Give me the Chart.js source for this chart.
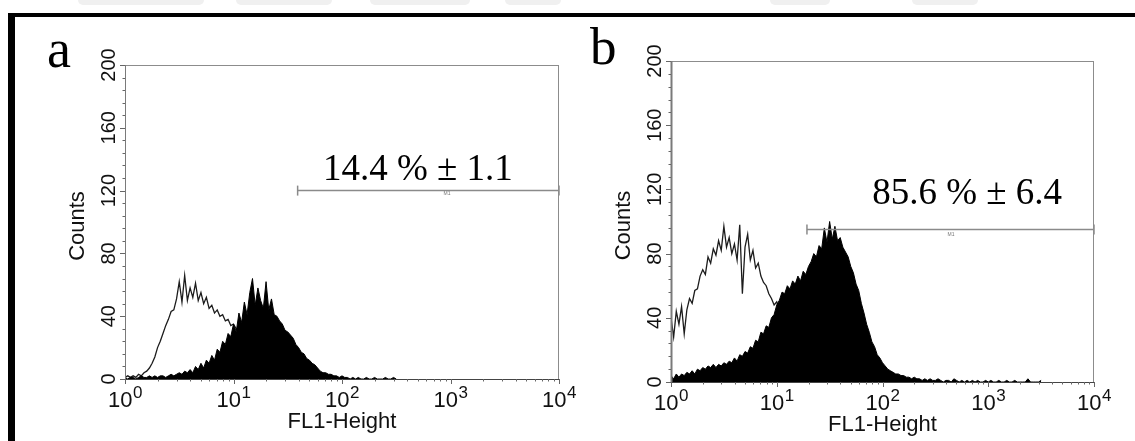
<!DOCTYPE html>
<html>
<head>
<meta charset="utf-8">
<script src="https://cdn.jsdelivr.net/npm/chart.js@4.4.1/dist/chart.umd.min.js"></script>
<style>
  html, body { margin: 0; padding: 0; background: #fff; }
  body { width: 1135px; height: 441px; position: relative; overflow: hidden; }
  canvas { position: absolute; top: 0; }
  #ca { left: 0; }
  #cb { left: 567px; }
  .rule { position: absolute; background: #000; }
  .tab { position: absolute; top: 0; height: 5px; background: #f0f0f0; border-radius: 0 0 40px 40px; }
  .letter { position: absolute; font-family: "Liberation Serif", "Times New Roman", serif; color: #000; line-height: 1; }
</style>
</head>
<body>
<div class="tab" style="left:78px;width:126px"></div>
<div class="tab" style="left:236px;width:96px"></div>
<div class="tab" style="left:370px;width:100px"></div>
<div class="tab" style="left:505px;width:56px"></div>
<div class="tab" style="left:770px;width:60px"></div>
<div class="tab" style="left:912px;width:66px"></div>
<div class="rule" style="left:8px;top:13px;width:1127px;height:4px"></div>
<div class="rule" style="left:8px;top:13px;width:7px;height:428px"></div>
<div class="letter" style="left:47px;top:22px;font-size:54px">a</div>
<div class="letter" style="left:590px;top:20px;font-size:53px">b</div>
<canvas id="ca" width="600" height="441"></canvas>
<canvas id="cb" width="568" height="441"></canvas>
<script>
// Histogram bins: 40 bins per decade of FL1-Height, starting at 10^0
const binsPerDecade = 40;
const decadeTicks = [0, 1, 2, 3, 4];
const countTicks = [0, 40, 80, 120, 160, 200];

// Panel a – control (open) and stained (filled) counts per bin
const ctrlA = [1,2,1,2,1, 3,2,4,5,7, 10,14,20,24,29, 34,38,43,44,51,
  62,49,66,50,58, 52,61,50,55,48, 52,45,47,42,44, 40,41,37,38,34,
  35,32,31,30,28, 26,24,22,20,18, 16,14,12,10,8, 7,6,5,4,3, 2,2,1,1,0];
const fillA = [1,0,1,1,0,1,2,1, 1,2,1,2,1,2,2,1,
  2,3,2,3,4,3,5,4, 6,4,8,6,10,7,12,10,
  15,12,19,17,24,22,29,27, 35,30,42,36,49,41,55,64,
  47,58,50,45,62,44,51,41, 40,37,35,31,30,28,26,22,
  20,17,16,13,12,10,9,7, 5,4,4,3,3,2,2,1,
  2,1,1,0,1,0,1,0, 0,1,0,0,1,0,0,0, 1,0,0,1,0];

// Panel b – control (open) and stained (filled) counts per bin
const ctrlB = [40,28,44,36,47, 30,45,52,49,57, 58,66,70,67,78, 74,83,79,88,82,
  97,84,90,80,86, 76,98,55,84,92, 76,82,71,74,66, 62,60,55,52,48,
  50,45,42,40,37, 34,30,27,24,21, 18,15,12,10,8, 6,5,4,3,2, 2,1,1,1,0];
const fillB = [4,2,5,3,5,4,6,5, 7,5,8,7,9,8,10,9,
  11,9,11,10,12,11,13,12, 15,13,17,16,19,18,22,21,
  26,25,31,30,35,34,40,42, 48,51,56,55,60,58,63,61,
  66,63,69,67,72,75,80,78, 85,83,96,87,100,89,97,88,
  90,84,81,78,72,68,61,57, 49,43,36,31,25,22,17,15,
  12,10,8,7,6,5,5,4, 4,3,3,2,3,2,2,1,
  2,1,2,1,1,2,1,0, 1,1,0,2,1,0,1,0,
  1,0,1,0,1,0,0,1, 0,1,0,0,1,0,0,1,
  0,0,1,0,0,0,0,2, 0,0,0,0,1];

// Marker gates (FL1 range and the count level the gate bar sits at)
const gateA = [39, 10000], gateLevelA = 120, gateTextA = "14.4 % \u00B1 1.1";
const gateB = [19.3, 10000], gateLevelB = 95, gateTextB = "85.6 % \u00B1 6.4";

const SANS = '"Liberation Sans", Arial, sans-serif';
const SERIF = '"Liberation Serif", "Times New Roman", serif';

function toPoints(counts) {
  return counts.map((c, i) => ({ x: Math.pow(10, i / binsPerDecade), y: c }));
}

const decor = {
  id: 'panelDecor',
  afterDraw(chart) {
    const { ctx, chartArea: ca, scales: { x, y } } = chart;
    const p = chart.options.plugins.panelDecor;
    ctx.save();

    // plot frame
    ctx.strokeStyle = '#8c8c8c';
    ctx.lineWidth = 1;
    ctx.strokeRect(ca.left + 0.5, ca.top + 0.5, ca.right - ca.left - 1, ca.bottom - ca.top);
    ctx.strokeStyle = '#7a7a7a';
    ctx.lineWidth = p.leftAxisWidth;
    ctx.beginPath();
    ctx.moveTo(ca.left + 0.5, ca.top); ctx.lineTo(ca.left + 0.5, ca.bottom);
    ctx.stroke();
    ctx.strokeStyle = '#444';
    ctx.lineWidth = 1.2;
    ctx.beginPath();
    ctx.moveTo(ca.left, ca.bottom + 0.5); ctx.lineTo(ca.right, ca.bottom + 0.5);
    ctx.stroke();

    // count ticks (major every 40, minor every 8)
    ctx.strokeStyle = '#666';
    ctx.lineWidth = 1;
    for (let v = 0; v <= 200; v += 8) {
      const py = Math.round(y.getPixelForValue(v)) + 0.5;
      const len = v % 40 === 0 ? 5 : 2.5;
      ctx.beginPath(); ctx.moveTo(ca.left, py); ctx.lineTo(ca.left - len, py); ctx.stroke();
    }
    // log ticks on FL1 axis
    for (const d of decadeTicks) {
      for (let k = 1; k <= 9; k++) {
        if (d === 4 && k > 1) break;
        const px = Math.round(x.getPixelForValue(k * Math.pow(10, d))) + 0.5;
        const len = k === 1 ? 5 : 2.5;
        ctx.beginPath(); ctx.moveTo(px, ca.bottom); ctx.lineTo(px, ca.bottom + len); ctx.stroke();
      }
    }

    ctx.fillStyle = '#111';
    // count tick labels, rotated
    ctx.font = '20px ' + SANS;
    ctx.textAlign = 'center';
    ctx.textBaseline = 'middle';
    for (const v of countTicks) {
      ctx.save();
      ctx.translate(ca.left - 16.5, y.getPixelForValue(v));
      ctx.rotate(-Math.PI / 2);
      ctx.fillText(String(v), 0, 1);
      ctx.restore();
    }
    // decade tick labels 10^n
    ctx.textBaseline = 'alphabetic';
    ctx.textAlign = 'left';
    for (const d of decadeTicks) {
      const px = x.getPixelForValue(Math.pow(10, d));
      ctx.font = '22px ' + SANS;
      const w1 = ctx.measureText('10').width;
      ctx.font = '17px ' + SANS;
      const w2 = ctx.measureText(String(d)).width;
      const x0 = px - (w1 + w2) / 2;
      ctx.font = '22px ' + SANS;
      ctx.fillText('10', x0, ca.bottom + 28);
      ctx.font = '17px ' + SANS;
      ctx.fillText(String(d), x0 + w1 + 0.5, ca.bottom + 19);
    }

    // axis titles
    ctx.font = '22px ' + SANS;
    ctx.textAlign = 'center';
    ctx.fillText('FL1-Height', (ca.left + ca.right) / 2, ca.bottom + 49);
    ctx.save();
    ctx.translate(ca.left - 47, (ca.top + ca.bottom) / 2 + 4);
    ctx.rotate(-Math.PI / 2);
    ctx.textBaseline = 'middle';
    ctx.fillText('Counts', 0, 0);
    ctx.restore();

    // gate percentage and marker name
    ctx.font = '37px ' + SERIF;
    ctx.textBaseline = 'alphabetic';
    ctx.fillStyle = '#000';
    ctx.fillText(p.text, x.getPixelForValue(p.textAt[0]), y.getPixelForValue(p.textAt[1]));
    ctx.font = '5px ' + SANS;
    ctx.fillStyle = '#777';
    ctx.fillText('M1', x.getPixelForValue(p.markAt[0]), y.getPixelForValue(p.markAt[1]));

    ctx.restore();
  }
};

function makePanel(canvasId, ctrl, fill, gate, level, pad, deco) {
  return new Chart(document.getElementById(canvasId), {
    type: 'line',
    data: {
      datasets: [
        { data: [{ x: gate[0], y: level }, { x: gate[1], y: level }],
          borderColor: '#8a8a8a', borderWidth: 1.5, pointStyle: 'line', rotation: 90,
          pointRadius: 5, pointBorderColor: '#8a8a8a', pointBorderWidth: 1.5, order: 0, clip: false },
        { data: toPoints(fill), borderColor: '#000', backgroundColor: '#000', borderWidth: 1,
          fill: 'origin', pointRadius: 0, order: 1 },
        { data: toPoints(ctrl), borderColor: '#1c1c1c', borderWidth: 1.3, fill: false,
          pointRadius: 0, order: 2 }
      ]
    },
    options: {
      responsive: false, animation: false, devicePixelRatio: 1,
      layout: { padding: pad },
      elements: { line: { tension: 0 } },
      scales: {
        x: { type: 'logarithmic', min: 1, max: 10000, display: false },
        y: { type: 'linear', min: 0, max: 200, display: false }
      },
      plugins: { legend: { display: false }, tooltip: { enabled: false }, panelDecor: deco }
    },
    plugins: [decor]
  });
}

makePanel('ca', ctrlA, fillA, gateA, gateLevelA,
  { left: 125, top: 65, right: 41, bottom: 62 },
  { text: gateTextA, textAt: [500, 126.8], markAt: [930, 117], leftAxisWidth: 1 });
makePanel('cb', ctrlB, fillB, gateB, gateLevelB,
  { left: 104, top: 61, right: 41, bottom: 59 },
  { text: gateTextB, textAt: [631, 110.9], markAt: [445, 91], leftAxisWidth: 2 });
</script>
</body>
</html>
